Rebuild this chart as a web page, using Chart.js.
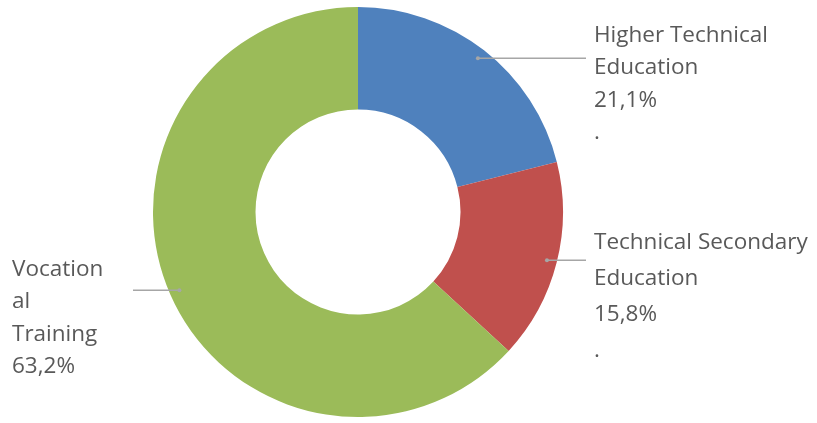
<!DOCTYPE html>
<html>
<head>
<meta charset="utf-8">
<script src="https://cdn.jsdelivr.net/npm/chart.js@4"></script>
<style>
  html, body { margin: 0; padding: 0; background: #fff; }
  #wrap { width: 817px; height: 423px; position: relative; }
</style>
</head>
<body>
<div id="wrap"><canvas id="donut-chart"></canvas></div>
<script>
const categories = ['Higher Technical Education', 'Technical Secondary Education', 'Vocational Training'];
const shares = [21.1, 15.8, 63.2];
const sliceColors = ['#4F81BD', '#C0504D', '#9BBB59'];
// label text broken the same way as in the picture
const labelLines = [
    ['Higher Technical', 'Education'],
    ['Technical Secondary', 'Education'],
    ['Vocation', 'al', 'Training']
];
const trailingDot = [true, true, false];

// leader lines + text labels drawn next to each slice
const sideLabels = {
    id: 'sideLabels',
    afterDatasetsDraw(chart) {
        const ctx = chart.ctx;
        const arcs = chart.getDatasetMeta(0).data;
        const cfg = [
            { lineTo: 586, textX: 594, firstOffset: -23, step: 32.5 },
            { lineTo: 586, textX: 594, firstOffset: -18, step: 36 },
            { lineTo: 133, textX: 12, firstOffset: -21, step: 32.5 }
        ];
        ctx.save();
        arcs.forEach((arc, i) => {
            const mid = (arc.startAngle + arc.endAngle) / 2;
            const r = arc.outerRadius - 10;
            const ax = arc.x + Math.cos(mid) * r;
            const ay = arc.y + Math.sin(mid) * r;
            const c = cfg[i];

            ctx.strokeStyle = '#a6a6a6';
            ctx.lineWidth = 1.5;
            ctx.beginPath();
            ctx.moveTo(ax, ay);
            ctx.lineTo(c.lineTo, ay);
            ctx.stroke();
            ctx.fillStyle = '#a6a6a6';
            ctx.beginPath();
            ctx.arc(ax, ay, 2, 0, Math.PI * 2);
            ctx.fill();

            const lines = labelLines[i].concat([shares[i].toFixed(1).replace('.', ',') + '%']);
            if (trailingDot[i]) lines.push('.');
            ctx.fillStyle = '#595959';
            ctx.font = '22.5px "Open Sans"';
            ctx.textAlign = 'left';
            ctx.textBaseline = 'middle';
            lines.forEach((t, k) => {
                ctx.fillText(t, c.textX, ay + c.firstOffset + k * c.step);
            });
        });
        ctx.restore();
    }
};

new Chart(document.getElementById('donut-chart').getContext('2d'), {
    type: 'doughnut',
    data: {
        labels: categories,
        datasets: [{
            data: shares,
            backgroundColor: sliceColors,
            borderWidth: 0
        }]
    },
    options: {
        responsive: true,
        maintainAspectRatio: false,
        animation: false,
        cutout: '50%',
        layout: {
            padding: { left: 153, right: 254, top: 7, bottom: 6 }
        },
        plugins: {
            legend: { display: false },
            tooltip: { enabled: false }
        }
    },
    plugins: [sideLabels]
});
</script>
</body>
</html>
